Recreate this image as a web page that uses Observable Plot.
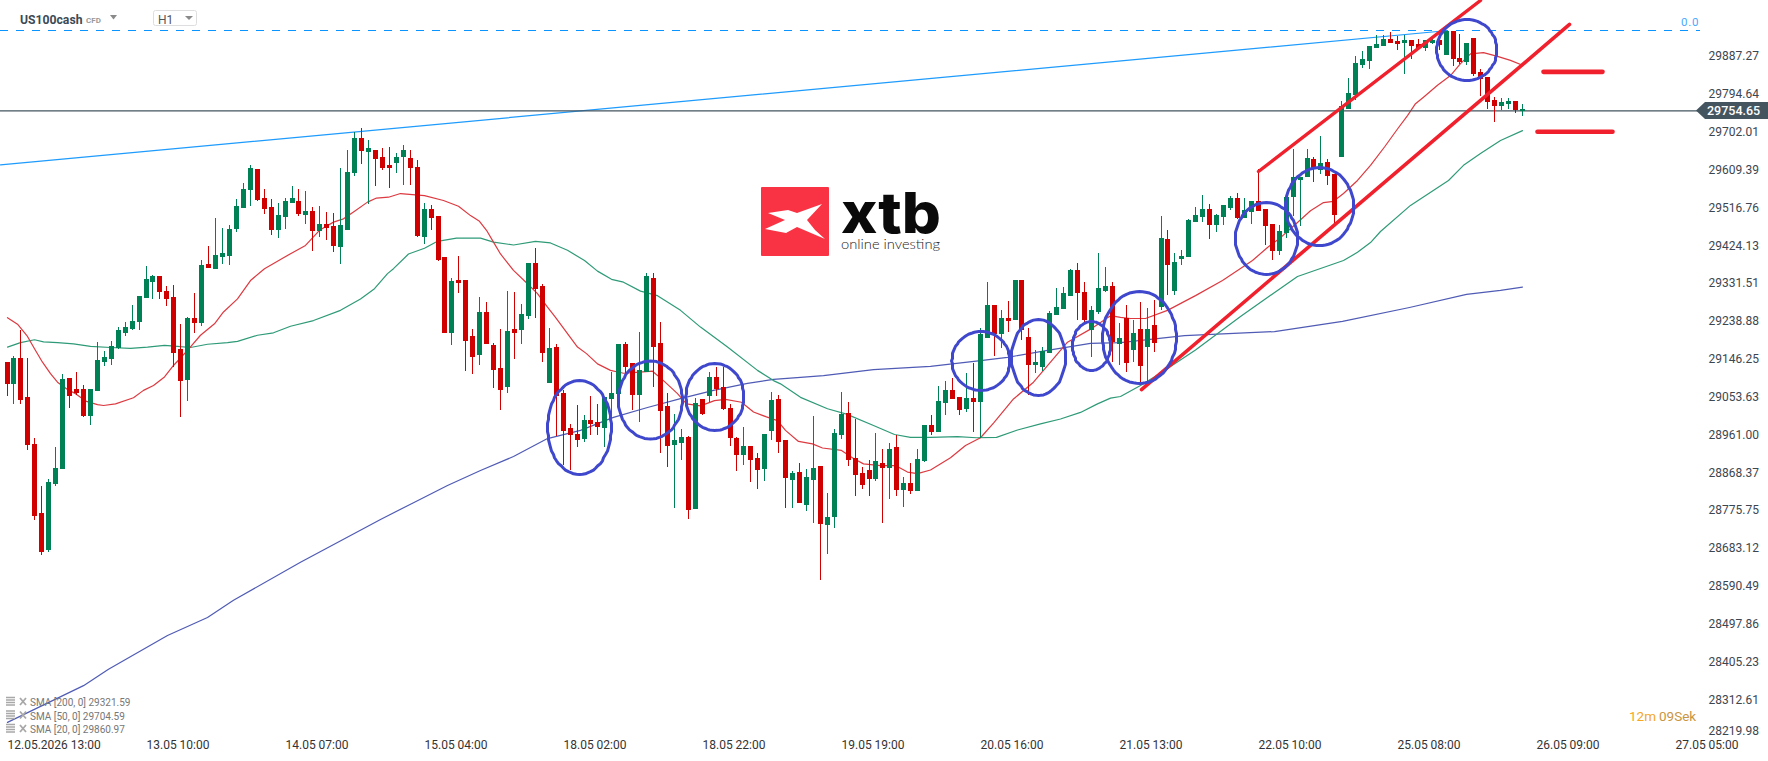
<!DOCTYPE html>
<html>
<head>
<meta charset="utf-8">
<script src="https://cdn.jsdelivr.net/npm/d3@7"></script>
<script src="https://cdn.jsdelivr.net/npm/@observablehq/plot@0.6"></script>
<style>
html,body{margin:0;padding:0;background:#fff;overflow:hidden}
#wrap{position:relative;width:1768px;height:761px}
#overlay{position:absolute;left:0;top:0;pointer-events:none}
text{font-family:Roboto,sans-serif}
</style>
</head>
<body>
<div id="wrap"></div>
<script>
const opens=[29139,29085,29148,29053,28938,28769,28678,28840,28877,29099,
29073,29073,29006,29068,29139,29146,29173,29210,29219,29237,
29295,29334,29349,29312,29298,29170,29095,29246,29234,29379,
29366,29396,29398,29464,29516,29560,29611,29540,29518,29462,
29494,29528,29533,29498,29508,29459,29476,29472,29420,29462,
29601,29687,29653,29658,29640,29621,29626,29640,29638,29616,
29445,29513,29496,29395,29209,29339,29339,29202,29156,29261,
29180,29124,29077,29219,29217,29251,29381,29324,29087,29175,
29063,28977,28962,28950,28996,28992,28977,29048,29060,29182,
29136,29058,29114,29344,29185,29031,28935,28940,28955,28779,
29048,29055,29102,29077,29026,28952,28911,28933,28903,28877,
28970,29048,28947,28850,28869,28788,28850,28884,28739,28759,
28959,29013,28903,28867,28874,28852,28891,28879,28930,28825,
28842,28823,28896,28984,28967,29038,29069,29052,29023,29050,
29040,29197,29278,29207,29246,29241,29339,29199,29131,29126,
29160,29253,29268,29300,29363,29309,29216,29260,29312,29324,
29182,29246,29168,29219,29175,29229,29273,29440,29312,29391,
29396,29482,29494,29513,29474,29494,29516,29540,29491,29506,
29533,29513,29477,29411,29455,29543,29584,29592,29636,29609,
29628,29599,29641,29758,29792,29866,29876,29907,29912,29930,
29925,29920,29927,29917,29907,29920,29927,29890,29949,29883,
29873,29932,29849,29837,29780,29766,29770,29778,29752];
const closes=[29085,29148,29046,28935,28760,28674,28845,28879,29097,29055,
29063,29006,29073,29144,29151,29178,29217,29224,29239,29300,
29342,29349,29310,29293,29161,29092,29246,29234,29376,29369,
29401,29405,29464,29521,29562,29614,29535,29513,29462,29498,
29533,29540,29501,29508,29459,29476,29467,29423,29474,29604,
29687,29655,29662,29636,29614,29614,29640,29657,29613,29447,
29513,29491,29388,29209,29337,29332,29190,29151,29261,29182,
29119,29070,29214,29209,29256,29381,29317,29160,29173,29055,
28970,28960,28947,28996,28987,28979,29053,29063,29182,29126,
29058,29119,29349,29175,29018,28933,28947,28955,28776,29038,
29011,29102,29072,29023,28952,28911,28933,28899,28874,28962,
29045,28943,28854,28867,28793,28857,28879,28742,28759,28965,
29011,28898,28862,28837,28852,28896,28879,28925,28825,28842,
28823,28901,28984,28967,29043,29069,29047,29021,29050,29040,
29207,29278,29207,29246,29238,29339,29216,29131,29138,29165,
29258,29273,29307,29363,29307,29241,29265,29319,29324,29188,
29197,29136,29210,29129,29219,29185,29442,29376,29383,29398,
29486,29499,29513,29474,29499,29523,29540,29491,29511,29533,
29508,29472,29411,29460,29543,29592,29592,29638,29614,29626,
29594,29499,29766,29797,29871,29881,29912,29917,29930,29920,
29917,29927,29912,29907,29927,29927,29915,29949,29881,29873,
29920,29844,29832,29775,29766,29775,29778,29756,29757];
const highs=[29139,29153,29217,29148,28953,28835,28852,28931,29109,29099,
29114,29082,29073,29188,29166,29190,29224,29237,29278,29300,
29374,29352,29349,29325,29327,29232,29249,29308,29388,29423,
29491,29467,29474,29538,29577,29621,29611,29562,29538,29528,
29540,29569,29562,29557,29518,29521,29506,29503,29614,29658,
29702,29711,29682,29658,29662,29665,29650,29670,29657,29633,
29527,29523,29496,29395,29344,29398,29339,29219,29298,29285,
29185,29219,29312,29310,29280,29381,29417,29329,29222,29182,
29070,28987,29033,29009,29055,29036,29053,29114,29182,29187,
29136,29212,29356,29356,29236,29063,29011,28974,28957,29050,
29048,29114,29126,29126,29036,28955,28979,28933,28916,28962,
29065,29058,28947,28872,28891,28877,29006,28884,28818,28974,
29065,29040,28998,28881,28899,28964,28925,28940,28959,28857,
28891,28925,28984,29008,29079,29092,29099,29052,29111,29136,
29221,29334,29278,29265,29287,29339,29339,29221,29167,29175,
29263,29319,29322,29366,29380,29334,29275,29405,29371,29334,
29233,29278,29241,29286,29271,29290,29496,29462,29406,29413,
29489,29518,29548,29526,29501,29523,29545,29553,29540,29533,
29611,29513,29477,29474,29543,29660,29592,29660,29641,29692,
29636,29599,29778,29834,29888,29900,29912,29939,29939,29947,
29937,29939,29927,29930,29927,29934,29927,29949,29949,29942,
29920,29932,29856,29837,29788,29785,29785,29778,29770];
const lows=[29055,29036,29036,28923,28752,28666,28674,28835,28877,29026,
29058,29004,28984,29068,29129,29131,29170,29202,29217,29217,
29295,29293,29293,29276,29126,29004,29043,29210,29227,29369,
29366,29379,29376,29457,29516,29521,29533,29501,29450,29442,
29464,29528,29496,29476,29410,29445,29437,29408,29379,29462,
29594,29623,29525,29569,29609,29565,29601,29572,29572,29444,
29427,29462,29386,29209,29180,29307,29116,29109,29131,29182,
29075,29021,29063,29146,29182,29244,29246,29138,29087,28957,
28886,28874,28930,28943,28960,28960,28930,28996,29060,29109,
29021,28992,29114,29077,28916,28881,28781,28899,28754,28779,
29009,29041,29055,29021,28933,28872,28886,28845,28828,28847,
28947,28916,28781,28781,28793,28774,28744,28605,28668,28732,
28950,28883,28810,28828,28810,28847,28744,28803,28810,28784,
28815,28823,28893,28959,28967,29008,29047,29008,29016,28967,
28952,29197,29153,29172,29211,29241,29192,29057,29111,29116,
29160,29253,29268,29300,29241,29236,29150,29256,29309,29138,
29131,29114,29139,29082,29087,29163,29266,29303,29303,29376,
29396,29482,29482,29440,29457,29474,29511,29489,29491,29477,
29508,29425,29389,29401,29442,29496,29472,29592,29579,29599,
29572,29477,29641,29758,29780,29859,29856,29907,29912,29920,
29903,29844,29881,29903,29900,29917,29903,29890,29863,29868,
29866,29839,29790,29758,29726,29756,29758,29748,29741];

const sma20X=[0,1.5,2.9,3.9,5.1,6.3,7.2,8.7,9.9,11.5,13,13.9,15.6,18.2,19.7,21.1,22.6,24,25.9,27.8,29.8,31.2,33.1,35,37,39.8,43,45,47,48.4,49.9,51.8,53.2,54.9,56.6,60,62.8,65,66.7,68,69,70,71,72.9,74.8,76.3,77.7,78.9,80.6,82,83.4,84.9,86.8,88.7,90.6,92.8,94.5,96.4,97.8,99.8,101.7,103.3,105.7,107.4,109.3,110.8,112,113.9,115.8,117.3,120.1,121.8,123.2,125.7,127.8,129.5,130.9,132.8,135.7,137.9,140,141.9,144.8,147.7,150.1,152.5,155.9,158.7,160.2,161.6,163.8,166.9,171,174.8,179.1,181.3,183.2,185.6,187.5,189.4,190.8,192.3,194.2,196.1,198.1,200,201.4,202.6,203.8,205.7,207.6,209.1,210.5,212.4,214.4,216.3,218];
const sma20Y=[29248,29232,29202,29172,29139,29111,29090,29072,29062,29043,29035,29033,29037,29052,29070,29082,29103,29131,29168,29205,29233,29262,29294,29339,29368,29395,29425,29462,29482,29490,29507,29531,29541,29543,29552,29547,29535,29521,29498,29484,29462,29433,29404,29364,29331,29307,29274,29249,29209,29176,29160,29135,29119,29112,29114,29117,29094,29062,29037,29032,29045,29048,29041,29017,29005,28996,28972,28945,28939,28929,28923,28903,28890,28886,28886,28870,28866,28875,28905,28935,28954,28990,29049,29090,29139,29188,29220,29253,29249,29246,29246,29266,29302,29339,29388,29420,29444,29481,29510,29530,29533,29552,29584,29621,29666,29710,29743,29772,29788,29817,29841,29870,29894,29897,29888,29878,29866];
const sma50X=[0,1.9,3.9,5.3,7.2,9.6,12,14.9,17.8,20.2,22.6,24.5,26.4,28.8,31.7,33.1,36,38.4,40.8,44.1,48,50.8,52.8,54.7,55.6,57.8,60,61.9,64.7,68.1,70,72.9,76,78.2,80.6,83,84.9,87,88.7,91.1,93.5,96.9,99.8,103.6,107.9,110.3,111.3,114.1,118,120.8,124.7,127.6,130,132.8,136.7,139.5,142.4,145.3,148.7,151.5,154.4,156.8,158.7,160.2,163,166.1,170.9,177.4,185.6,192.3,194.2,196.1,197.6,201.9,207.4,209.5,212,214.8,218];
const sma50Y=[29176,29187,29194,29189,29187,29184,29178,29175,29173,29176,29180,29178,29175,29183,29187,29190,29205,29211,29227,29241,29266,29294,29319,29356,29368,29404,29418,29435,29443,29443,29433,29426,29435,29431,29413,29388,29362,29342,29335,29313,29302,29266,29225,29176,29119,29094,29086,29053,29025,29012,28984,28962,28955,28955,28957,28954,28955,28973,28988,29000,29016,29037,29051,29055,29082,29114,29169,29251,29349,29388,29408,29432,29459,29523,29584,29621,29650,29682,29706];
const sma200X=[0,11,14.6,23.1,28.8,32.6,42.2,53.7,58.5,63.4,68.1,72.9,77.7,82.5,87.2,92.1,96.9,101.6,106.5,110.3,114.1,117.4,124.6,132.8,140,143.9,149.7,155.9,160.2,169.4,182.3,192.1,201.7,209.9,214.8,218];
const sma200Y=[28257,28347,28387,28470,28514,28556,28649,28754,28795,28837,28874,28908,28952,28972,29004,29028,29050,29070,29087,29097,29102,29106,29121,29129,29143,29151,29168,29185,29187,29204,29214,29239,29273,29305,29315,29323];

const yTicks=[29887.27,29794.64,29702.01,29609.39,29516.76,29424.13,29331.51,29238.88,29146.25,29053.63,28961.00,28868.37,28775.75,28683.12,28590.49,28497.86,28405.23,28312.61];
const yBottomTick=[28219.98];
const xTicks=[0,20,40,60,80,100,120,140,160,180,200,220,240];
const xLabels=["12.05.2026 13:00","13.05 10:00","14.05 07:00","15.05 04:00","18.05 02:00","18.05 22:00","19.05 19:00","20.05 16:00","21.05 13:00","22.05 10:00","25.05 08:00","26.05 09:00","27.05 05:00"];
const lastPrice=29754.65, fibLevel=29950.5;
const legendRows=["SMA [200, 0] 29321.59","SMA [50, 0] 29704.59","SMA [20, 0] 29860.97"];

const trendBlueX=[-0.935,205.8], trendBlueY=[29622.4,29948.8];
const channelLowX=[163.2,224.8], channelLowY=[29072,29966];
const channelHighX=[180,212], channelHighY=[29606,30024.7];
const targetA={x:[221,229.5],y:[29850,29850]};
const targetB={x:[220.2,230.9],y:[29703.2,29703.2]};

const ellipseCx=[82.35,92.56,101.84,140.1,148.37,156,162.9,181.17,188.8,210];
const ellipseCy=[28979,29046.5,29053.8,29142,29150.5,29178.7,29199.5,29442,29520,29903.5];
const ellipseRx=[4.6,4.6,4.17,4.17,3.88,2.73,5.32,4.46,4.89,4.32];
const ellipseRy=[115,95.5,82,72.2,93,60,112.6,88,95.5,74.7];
const ellipsePts=ellipseCx.flatMap((cx,k)=>d3.range(0,73).map(a=>({k,
  x:cx+ellipseRx[k]*Math.cos(a*Math.PI/36),
  y:ellipseCy[k]+ellipseRy[k]*Math.sin(a*Math.PI/36)})));

const candles=opens.map((o,i)=>({i,o,c:closes[i],h:highs[i],l:lows[i],col:closes[i]>=o?"#008055":"#d00000"}));

const chart=Plot.plot({
  width:1768,height:761,marginTop:0,marginLeft:0,marginRight:68,marginBottom:23,
  style:{fontFamily:"Roboto, sans-serif",fontSize:"12px",background:"#fff"},
  x:{domain:[-0.935,243.6],round:true,label:null},
  y:{domain:[28217.6,30024.7],label:null},
  marks:[
    Plot.axisY({anchor:"right",ticks:yTicks,tickSize:0,tickPadding:8,tickFormat:d=>d.toFixed(2),label:null,fill:"#3c4650",fontSize:12}),
    Plot.axisY({anchor:"right",ticks:yBottomTick,tickSize:0,tickPadding:8,tickFormat:d=>d.toFixed(2),label:null,fill:"#3c4650",fontSize:12,dy:-6}),
    Plot.axisX({anchor:"bottom",ticks:xTicks,tickSize:0,tickPadding:0,dy:2,textAnchor:"start",tickFormat:i=>xLabels[xTicks.indexOf(i)],label:null,fill:"#333",fontSize:12}),
    Plot.line(sma200Y,{x:sma200X,y:sma200Y,stroke:"#4f5bb5",strokeWidth:1.2}),
    Plot.line(sma50Y,{x:sma50X,y:sma50Y,stroke:"#2e9a78",strokeWidth:1.2}),
    Plot.line(sma20Y,{x:sma20X,y:sma20Y,stroke:"#dc3a40",strokeWidth:1.2}),
    Plot.ruleY([fibLevel],{stroke:"#0a94ff",strokeWidth:1,strokeDasharray:"8,8",shapeRendering:"crispEdges"}),
    Plot.line(trendBlueY,{x:trendBlueX,y:trendBlueY,stroke:"#1e9bff",strokeWidth:1.2}),
    Plot.ruleY([lastPrice],{stroke:"#45545e",strokeWidth:1.2}),
    Plot.ruleX(candles,{x:"i",y1:"l",y2:"h",stroke:"col",strokeWidth:1,shapeRendering:"crispEdges"}),
    Plot.ruleX(candles,{x:"i",y1:"o",y2:"c",stroke:"col",strokeWidth:5,shapeRendering:"crispEdges"}),
    Plot.line(channelLowY,{x:channelLowX,y:channelLowY,stroke:"#f0202c",strokeWidth:3.6}),
    Plot.line(channelHighY,{x:channelHighX,y:channelHighY,stroke:"#f0202c",strokeWidth:3.4}),
    Plot.line(targetA.y,{x:targetA.x,y:targetA.y,stroke:"#f0202c",strokeWidth:4.6,strokeLinecap:"round"}),
    Plot.line(targetB.y,{x:targetB.x,y:targetB.y,stroke:"#f0202c",strokeWidth:4.6,strokeLinecap:"round"}),
    Plot.line(ellipsePts,{x:"x",y:"y",z:"k",stroke:"#3f48cc",strokeWidth:3})
  ]
});
const wrap=document.getElementById("wrap");
wrap.appendChild(chart);

const legendSvg=legendRows.map((t,k)=>{
  const y=702+k*13.5;
  return `<g stroke="#a8a8a8" fill="none"><path d="M6 ${y-4.5}h9M6 ${y-2}h9M6 ${y+0.5}h9M6 ${y+3}h9" stroke-width="1.4"/><path d="M20 ${y-4}l6 7M26 ${y-4}l-6 7" stroke-width="1.8"/></g><text x="30" y="${y+4}" font-size="10" fill="#777">${t}</text>`;
}).join("");
const ov=document.createElementNS("http://www.w3.org/2000/svg","svg");
ov.setAttribute("id","overlay");ov.setAttribute("width",1768);ov.setAttribute("height",761);
ov.innerHTML=`
<text x="20" y="24" font-size="12.2" font-weight="700" fill="#3c4a56">US100cash</text>
<text x="86" y="23" font-size="8" font-weight="700" fill="#9a9a9a">CFD</text>
<path d="M110 15h7l-3.5 4.5z" fill="#8a8a8a"/>
<rect x="153.5" y="10.5" width="43" height="15" rx="2" fill="#fff" stroke="#dedede"/>
<text x="158" y="24" font-size="12" fill="#555">H1</text>
<path d="M185 16h8l-4 4z" fill="#8a8a8a"/>
<text x="1681" y="26" font-size="11.5" letter-spacing="0.8" fill="#4aa8ff">0.0</text>
<path d="M1696 110.5L1705 102H1768V119H1705Z" fill="#445560"/>
<text x="1707" y="115" font-size="12.5" font-weight="500" fill="#fff">29754.65</text>
<rect x="761" y="187" width="68" height="69" rx="1" fill="#fa3344"/>
<path d="M822 204L797 213L788 210L768 213L785 220L765 229L786 233L797 227L825 239L815 230L807 220Z" fill="#fff"/>
<text x="841" y="233" font-size="56" font-weight="800" style="font-family:Inter,Roboto,sans-serif" textLength="100" lengthAdjust="spacingAndGlyphs" fill="#0a0a0a">xtb</text>
<text x="841" y="249" font-size="13.5" font-weight="300" style="font-family:Lato,Roboto,sans-serif" textLength="99" lengthAdjust="spacingAndGlyphs" fill="#222">online investing</text>
<text x="1629" y="721" font-size="13.5"><tspan fill="#f5a623">12m</tspan><tspan dx="3" fill="#c9953f">09Sek</tspan></text>
${legendSvg}`;
wrap.appendChild(ov);
</script>
</body>
</html>
